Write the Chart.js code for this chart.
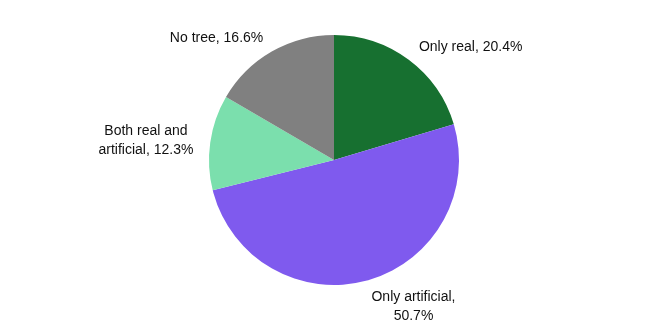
<!DOCTYPE html>
<html>
<head>
<meta charset="utf-8">
<script src="https://cdn.jsdelivr.net/npm/chart.js@4"></script>
<style>
  html, body { margin: 0; padding: 0; background: #fff; }
  #wrap { width: 650px; height: 327px; }
</style>
</head>
<body>
<div id="wrap"><canvas id="pieChart" width="650" height="327"></canvas></div>
<script>
// chart data
const categories = ['Only real', 'Only artificial', 'Both real and artificial', 'No tree'];
const shares = [20.4, 50.7, 12.3, 16.6];
const sliceColors = ['#177030', '#7f5aee', '#7bdfad', '#808080'];

// label text for each slice, split in lines like the original
const labelLines = [
  ['Only real, 20.4%'],
  ['Only artificial,', '50.7%'],
  ['Both real and', 'artificial, 12.3%'],
  ['No tree, 16.6%']
];

// draws the slice labels just outside the pie
const outsideLabels = {
  id: 'outsideLabels',
  afterDatasetsDraw(chart) {
    const ctx = chart.ctx;
    const meta = chart.getDatasetMeta(0);
    const lineH = 19;
    ctx.save();
    ctx.font = '14px "Liberation Sans", Arial, sans-serif';
    ctx.fillStyle = '#111';
    ctx.textBaseline = 'middle';
    meta.data.forEach((arc, i) => {
      const mid = (arc.startAngle + arc.endAngle) / 2;
      const r = arc.outerRadius + 17;
      const ax = arc.x + Math.cos(mid) * r;
      const ay = arc.y + Math.sin(mid) * r + 1;
      const lines = labelLines[i];
      const n = lines.length;
      // labels under the pie hang down from the anchor
      const cy = ay + (n - 1) * lineH / 2 * Math.max(0, Math.sin(mid));
      const widest = Math.max(...lines.map(l => ctx.measureText(l).width));
      const right = Math.cos(mid) >= 0;
      lines.forEach((l, k) => {
        const w = ctx.measureText(l).width;
        // lines centred inside the block, block anchored left or right
        const blockLeft = right ? ax : ax - widest;
        const x = blockLeft + (widest - w) / 2;
        ctx.textAlign = 'left';
        ctx.fillText(l, x, cy + (k - (n - 1) / 2) * lineH);
      });
    });
    ctx.restore();
  }
};

const ctx = document.getElementById('pieChart').getContext('2d');
const pieChart = new Chart(ctx, {
  type: 'pie',
  data: {
    labels: categories,
    datasets: [{
      data: shares,
      backgroundColor: sliceColors,
      borderWidth: 0
    }]
  },
  options: {
    responsive: false,
    animation: false,
    layout: { padding: { top: 35, bottom: 42, left: 18, right: 0 } },
    plugins: {
      legend: { display: false },
      tooltip: { enabled: false }
    }
  },
  plugins: [outsideLabels]
});
</script>
</body>
</html>
